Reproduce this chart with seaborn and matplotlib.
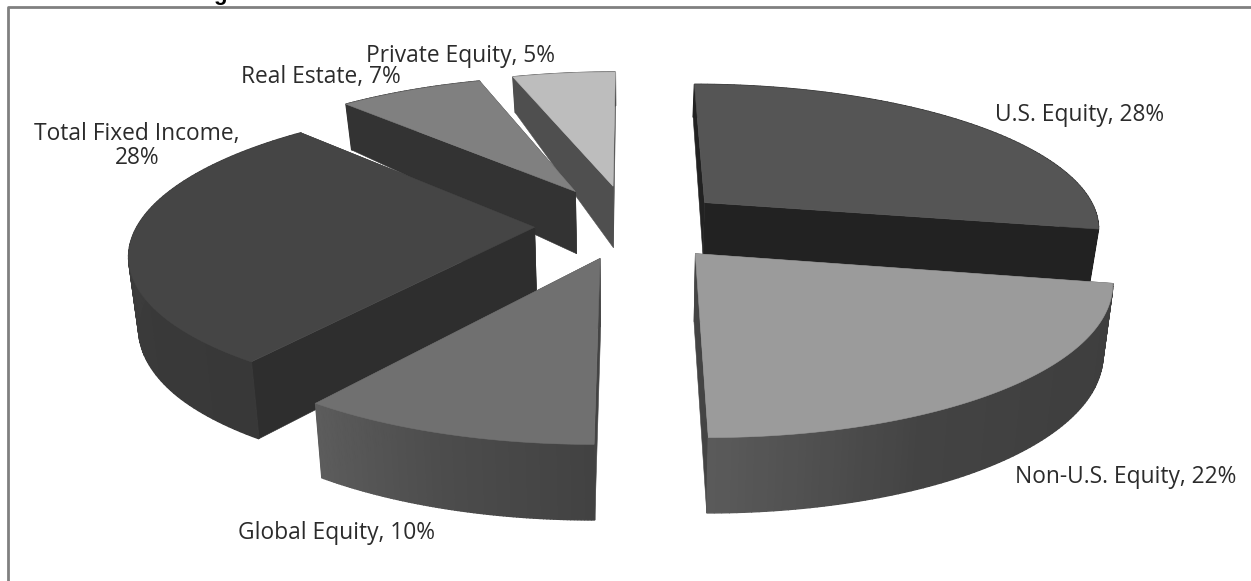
import numpy as np
import matplotlib
matplotlib.use("Agg")
import matplotlib.pyplot as plt
from matplotlib.patches import Polygon
import seaborn as sns

# ---- data
categories = ["U.S. Equity", "Non-U.S. Equity", "Global Equity",
              "Total Fixed Income", "Real Estate", "Private Equity"]
shares = [28, 22, 10, 28, 7, 5]
explode = [0.25, 0.25, 0.235, 0.24, 0.28, 0.285]
labels = ["U.S. Equity, 28%", "Non-U.S. Equity, 22%", "Global Equity, 10%",
          "Total Fixed Income,\n28%", "Real Estate, 7%", "Private Equity, 5%"]

# ---- style
top_colors = ["#555555", "#9b9b9b", "#707070", "#454545", "#808080", "#bdbdbd"]
side_walls = ["#222222", "#444444", "#444444", "#2e2e2e", "#333333", "#4f4f4f"]
rim_stops = [["#222222", "#222222"],
             ["#3e3e3e", "#3f3f3f", "#434343", "#5a5a5a"],
             ["#424242", "#4c4c4c", "#5c5c5c"],
             ["#383838", "#3a3a3a", "#3e3e3e", "#383838"],
             ["#333333", "#333333"],
             ["#4f4f4f", "#4f4f4f"]]
wall_scale = [0.85, 1, 1, 1.05, 1, 1]
label_xy = [(1080, 115), (1126, 477), (336, 533), (137, 146), (321, 77), (461, 56)]
paint_order = [5, 4, 0, 3, 2, 1]
XC, YC, FX, FY, G, SHRINK = 630, 225, 397, 144, 0.161, 0.98
depth_pv = [-1.3, -0.6, 0.0, 0.5, 1.0, 1.3]
depth_px = [76, 72, 66, 58, 45, 33]

sns.set_theme(style="white")
plt.rcParams["font.family"] = ["Open Sans", "DejaVu Sans"]
fig = plt.figure(figsize=(12.51, 5.81), dpi=100)
ax = fig.add_axes([0, 0, 1, 1])
ax.set_xlim(0, 1251)
ax.set_ylim(581, 0)
ax.axis("off")


def project(pu, pv, bottom=False, scale=1.0):
    s = 1 / (1 + G * pv)
    x = XC + FX * pu * s
    y = YC - FY * pv * s
    if bottom:
        x = XC + (x - XC) * SHRINK
        y = y + scale * np.interp(pv, depth_pv, depth_px)
    return x, y


edges = np.radians(np.concatenate([[0], np.cumsum(shares)]) * 3.6)

for order, i in enumerate(paint_order):
    z = order + 1
    a0, a1 = edges[i], edges[i + 1]
    mid = (a0 + a1) / 2
    eu, ev = explode[i] * np.sin(mid), explode[i] * np.cos(mid)
    th = np.linspace(a0, a1, 90)
    pu, pv = eu + np.sin(th), ev + np.cos(th)
    tx, ty = project(pu, pv)
    bx, by = project(pu, pv, True, wall_scale[i])
    ax_, ay_ = project(eu, ev)
    abx, aby = project(eu, ev, True, wall_scale[i])

    # radial side walls
    for idx in (0, -1):
        ax.add_patch(Polygon([(ax_, ay_), (tx[idx], ty[idx]), (bx[idx], by[idx]), (abx, aby)],
                             closed=True, fc=side_walls[i], ec=side_walls[i], lw=0.4, zorder=z))
    # outer rim
    shades = sns.blend_palette(rim_stops[i], len(th) - 1)
    for k in range(len(th) - 1):
        ax.add_patch(Polygon([(tx[k], ty[k]), (tx[k + 1], ty[k + 1]),
                              (bx[k + 1], by[k + 1]), (bx[k], by[k])],
                             closed=True, fc=shades[k], ec=shades[k], lw=1.0, zorder=z))
    # top face
    ax.add_patch(Polygon(np.column_stack([np.r_[ax_, tx], np.r_[ay_, ty]]),
                         closed=True, fc=top_colors[i], ec=top_colors[i], lw=0.4, zorder=z))

for text, (x, y) in zip(labels, label_xy):
    ax.text(x, y, text, ha="center", va="center", fontsize=16.4, color="#2b2b2b",
            linespacing=1.0, zorder=20)

# frame of the cropped chart and the cut-off title descender
ax.plot([8, 8, 1251], [581, 7, 7], color="#808080", lw=2, zorder=21, solid_capstyle="butt")
ax.text(220, 0, "g", ha="center", va="baseline", fontsize=16, fontweight="bold",
        family="Liberation Sans", color="black", zorder=22)

fig.savefig("out.png", dpi=100, facecolor="white")
